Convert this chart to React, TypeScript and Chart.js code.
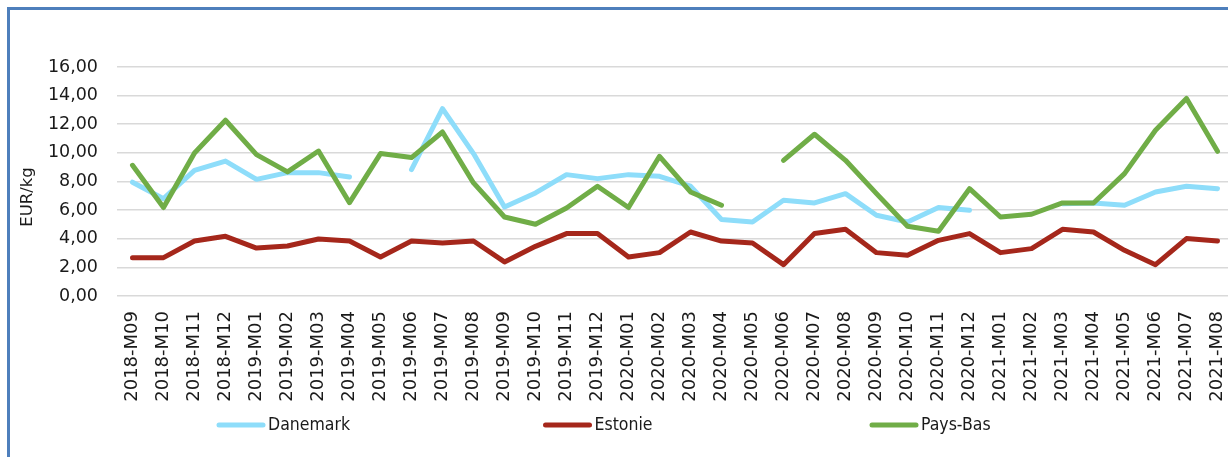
import React, { useEffect, useRef } from "react";
import { Chart, registerables } from "chart.js";

Chart.register(...registerables);

const categories = [
  "2018-M09", "2018-M10", "2018-M11", "2018-M12",
  "2019-M01", "2019-M02", "2019-M03", "2019-M04", "2019-M05", "2019-M06",
  "2019-M07", "2019-M08", "2019-M09", "2019-M10", "2019-M11", "2019-M12",
  "2020-M01", "2020-M02", "2020-M03", "2020-M04", "2020-M05", "2020-M06",
  "2020-M07", "2020-M08", "2020-M09", "2020-M10", "2020-M11", "2020-M12",
  "2021-M01", "2021-M02", "2021-M03", "2021-M04", "2021-M05", "2021-M06",
  "2021-M07", "2021-M08",
];

const danemark = [
  7.95, 6.8, 8.78, 9.43,
  8.15, 8.62, 8.62, 8.32, null, 8.83, 13.09, 9.95, 6.22, 7.2, 8.48, 8.2,
  8.48, 8.36, 7.67, 5.34, 5.17, 6.69, 6.5, 7.15, 5.64, 5.17, 6.18, 5.99,
  null, null, 6.45, 6.5, 6.34, 7.27, 7.67, 7.5,
];

const estonie = [
  2.68, 2.68, 3.84, 4.17,
  3.35, 3.49, 3.98, 3.84, 2.73, 3.84, 3.7, 3.84, 2.38, 3.47, 4.36, 4.36,
  2.73, 3.03, 4.47, 3.84, 3.7, 2.19, 4.36, 4.66, 3.03, 2.84, 3.89, 4.36,
  3.03, 3.31, 4.66, 4.47, 3.19, 2.19, 4.01, 3.84,
];

const paysBas = [
  9.13, 6.18, 9.99, 12.28,
  9.88, 8.67, 10.13, 6.52, 9.95, 9.67, 11.46, 7.9, 5.52, 5.01, 6.15, 7.67,
  6.18, 9.76, 7.27, 6.34, null, 9.48, 11.3, 9.48, 7.15, 4.87, 4.52, 7.5,
  5.52, 5.71, 6.5, 6.5, 8.55, 11.58, 13.8, 10.11,
];

const seriesNames = ["Danemark", "Estonie", "Pays-Bas"];
const seriesColors = ["#8EDDFA", "#A5271B", "#70AD47"];
const yTitle = "EUR/kg";

const W = 1240;
const H = 457;

const legendPlugin = {
  id: "excelLegend",
  afterDraw(chart: any) {
    const ctx = chart.ctx;
    ctx.save();
    const y = 425;
    const startX = 217;
    const colW = 326.5;
    chart.data.datasets.forEach((ds: any, i: number) => {
      const x = startX + i * colW;
      ctx.strokeStyle = ds.borderColor;
      ctx.lineWidth = 5;
      ctx.lineCap = "round";
      ctx.beginPath();
      ctx.moveTo(x + 2, y);
      ctx.lineTo(x + 46, y);
      ctx.stroke();
      ctx.fillStyle = "#1a1a1a";
      ctx.font = "17.5px 'DejaVu Sans Condensed', 'DejaVu Sans', sans-serif";
      ctx.textAlign = "left";
      ctx.textBaseline = "middle";
      ctx.fillText(ds.label, x + 51, y);
    });
    ctx.restore();
  },
};

const yTitlePlugin = {
  id: "yTitle",
  afterDraw(chart: any) {
    const ctx = chart.ctx;
    ctx.save();
    ctx.translate(28, 197);
    ctx.rotate(-Math.PI / 2);
    ctx.fillStyle = "#1a1a1a";
    ctx.font = "16.5px 'DejaVu Sans', sans-serif";
    ctx.textAlign = "center";
    ctx.textBaseline = "middle";
    ctx.fillText(yTitle, 0, 0);
    ctx.restore();
  },
};

export default function App() {
  const ref = useRef<HTMLCanvasElement | null>(null);

  useEffect(() => {
    if (!ref.current) return;
    const seriesData = [danemark, estonie, paysBas];
    const chart = new Chart(ref.current, {
      type: "line",
      data: {
        labels: categories,
        datasets: seriesNames.map((name, i) => ({
          label: name,
          data: seriesData[i],
          borderColor: seriesColors[i],
          backgroundColor: seriesColors[i],
          borderWidth: 5,
          pointRadius: 0,
          pointHoverRadius: 0,
          tension: 0,
          spanGaps: false,
          borderJoinStyle: "round" as const,
          borderCapStyle: "round" as const,
          order: 2 - i,
        })),
      },
      options: {
        animation: false,
        responsive: false,
        devicePixelRatio: 1,
        layout: { padding: { top: 67, right: 7, left: 0, bottom: 0 } },
        plugins: {
          legend: { display: false },
          tooltip: { enabled: false },
          title: { display: false },
        },
        scales: {
          x: {
            offset: true,
            grid: { display: false, drawTicks: false },
            border: { display: false },
            ticks: {
              autoSkip: false,
              minRotation: 90,
              maxRotation: 90,
              padding: 15,
              color: "#1a1a1a",
              font: { family: "'DejaVu Sans', sans-serif", size: 18 },
            },
            afterFit(scale: any) {
              scale.height = H - 296;
              scale.paddingLeft = 0;
              scale.paddingRight = 0;
            },
          },
          y: {
            min: 0,
            max: 16,
            grid: { color: "#D9D9D9", lineWidth: 1.6, drawTicks: false },
            border: { display: false },
            ticks: {
              stepSize: 2,
              padding: 19,
              color: "#1a1a1a",
              font: { family: "'DejaVu Sans', sans-serif", size: 17.5 },
              callback: (v: any) => Number(v).toFixed(2).replace(".", ","),
            },
            afterFit(scale: any) {
              scale.width = 117;
              scale.paddingTop = 0;
              scale.paddingBottom = 0;
            },
          },
        },
      },
      plugins: [legendPlugin, yTitlePlugin],
    });
    return () => chart.destroy();
  }, []);

  return (
    <div
      style={{
        position: "fixed",
        left: 0,
        top: 0,
        width: 1228,
        height: 457,
        overflow: "hidden",
        background: "#fff",
      }}
    >
      <div
        style={{
          position: "absolute",
          left: 7,
          top: 7,
          width: 1260,
          height: 480,
          borderLeft: "3px solid #4E7FBC",
          borderTop: "3px solid #4E7FBC",
          boxSizing: "border-box",
        }}
      />
      <canvas
        ref={ref}
        width={W}
        height={H}
        style={{ position: "absolute", left: 0, top: 0, width: W, height: H }}
      />
    </div>
  );
}
